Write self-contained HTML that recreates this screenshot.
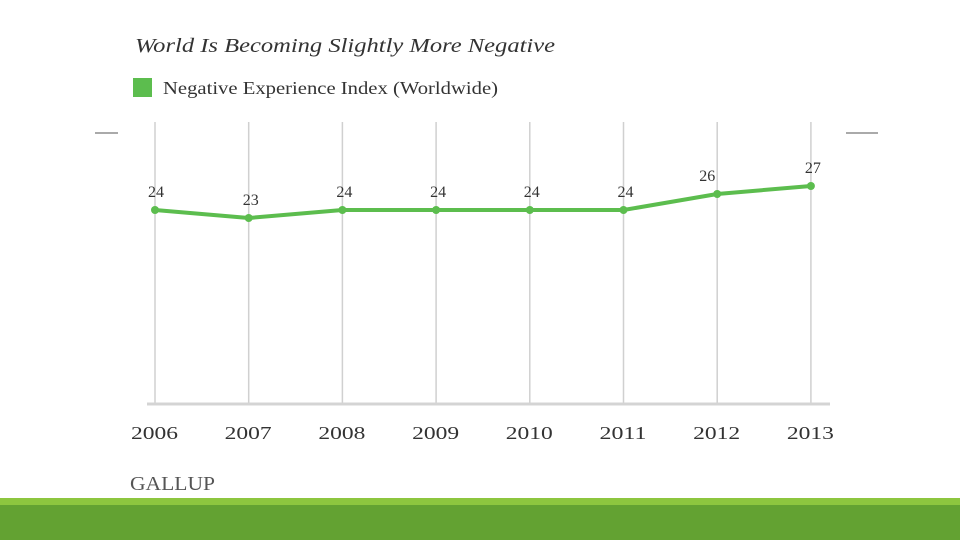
<!DOCTYPE html>
<html><head><meta charset="utf-8"><style>
body{margin:0;width:960px;height:540px;overflow:hidden;background:#fff;font-family:"Liberation Serif",serif;}
</style></head><body>
<svg width="960" height="540">
<rect x="0" y="0" width="960" height="540" fill="#fff"/>
<line x1="95" y1="133" x2="118" y2="133" stroke="#555" stroke-width="1"/>
<line x1="846" y1="133" x2="878" y2="133" stroke="#555" stroke-width="1"/>
<text x="135" y="52" font-size="20" font-style="italic" fill="#333" textLength="420" lengthAdjust="spacingAndGlyphs">World Is Becoming Slightly More Negative</text>
<rect x="133" y="78" width="19" height="19" fill="#5cbd4e"/>
<text x="163" y="94" font-size="18" fill="#333" textLength="335" lengthAdjust="spacingAndGlyphs">Negative Experience Index (Worldwide)</text>
<g id="grid"></g>
<line x1="147" y1="404" x2="830" y2="404" stroke="#d4d4d4" stroke-width="3"/>
<g id="marks"></g>
<text x="130" y="490" font-size="20" fill="#555" textLength="85" lengthAdjust="spacingAndGlyphs">GALLUP</text>
<rect x="0" y="498" width="960" height="8" fill="#8dc63f"/>
<rect x="0" y="505" width="960" height="35" fill="#63a232"/>
</svg>
<script>
const years=["2006","2007","2008","2009","2010","2011","2012","2013"];
const values=[24,23,24,24,24,24,26,27];
const ns="http://www.w3.org/2000/svg";
const x=i=>155+i*93.7;
const y=v=>402-v*8;
const grid=document.getElementById('grid'),marks=document.getElementById('marks');
function mk(tag,attrs,parent){const e=document.createElementNS(ns,tag);for(const k in attrs)e.setAttribute(k,attrs[k]);parent.appendChild(e);return e;}
years.forEach((yr,i)=>{
 const g=mk('line',{x1:x(i),y1:122,x2:x(i),y2:403,stroke:'#d0d0d0','stroke-width':1.5},grid);
 
 
 const t=mk('text',{x:x(i)-24,y:439,'font-size':18,fill:'#333',textLength:47,lengthAdjust:'spacingAndGlyphs'},grid);
 t.textContent=yr;
 
 
});
const pts=values.map((v,i)=>x(i)+','+y(v)).join(' ');
const pl=mk('polyline',{points:pts,fill:'none',stroke:'#5cbd4e','stroke-width':4,'stroke-linejoin':'round'},marks);


values.forEach((v,i)=>{
 const c=mk('circle',{cx:x(i),cy:y(v),r:4,fill:'#5cbd4e'},marks);
 
 
 const t=mk('text',{x:x(i)+(i==6?-10:(i==0?1:2)),y:y(v)-13,'font-size':16,fill:'#333','text-anchor':'middle'},marks);
 t.textContent=v;
 
 
});
</script>
</body></html>
